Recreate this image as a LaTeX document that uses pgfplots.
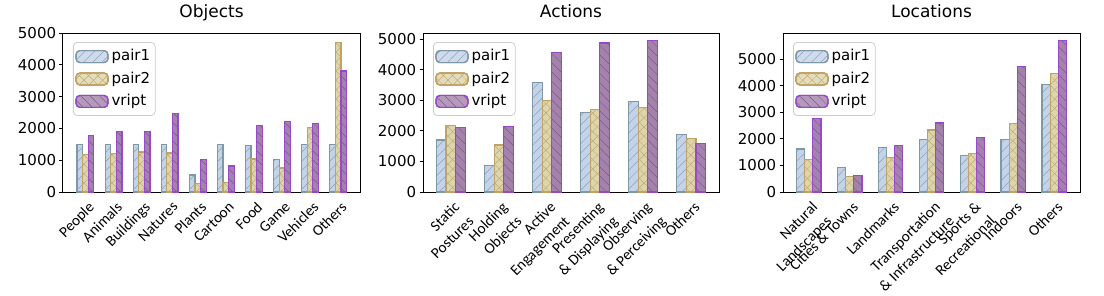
\documentclass[border=0pt]{standalone}
\usepackage{fontspec}
\setmainfont{DejaVu Sans}
\newfontfamily\calib{Carlito}
\usepackage{pgfplots}
\pgfplotsset{compat=1.18}
\usetikzlibrary{patterns.meta}

\definecolor{pAfill}{HTML}{C3D3E8}
\definecolor{pAedge}{HTML}{7F98A6}
\definecolor{pAhatch}{HTML}{8EA3BC}
\definecolor{pBfill}{HTML}{DDD5AE}
\definecolor{pBedge}{HTML}{C0A262}
\definecolor{pBhatch}{HTML}{C4AB70}
\definecolor{vFill}{HTML}{A482AC}
\definecolor{vEdge}{HTML}{9848C8}
\definecolor{vHatch}{HTML}{7C5A90}

\pgfplotsset{
  mylegend/.style={legend image code/.code={\draw[##1] (0pt,-3pt) rectangle (16pt,3pt);}},
  pairone/.style={fill=pAfill, draw=pAedge, line width=0.6pt,
    postaction={pattern={Lines[angle=45,distance=3.3pt,line width=0.25pt]}, pattern color=pAhatch},
    /pgf/bar shift=-0.2, mylegend},
  pairtwo/.style={fill=pBfill, draw=pBedge, line width=0.6pt,
    postaction={pattern={Lines[angle=45,distance=3.3pt,line width=0.25pt]}, pattern color=pBhatch},
    postaction={pattern={Lines[angle=-45,distance=3.3pt,line width=0.25pt]}, pattern color=pBhatch},
    /pgf/bar shift=0, mylegend},
  vript/.style={fill=vFill, draw=vEdge, line width=0.6pt,
    postaction={pattern={Lines[angle=-45,distance=3.3pt,line width=0.25pt]}, pattern color=vHatch},
    /pgf/bar shift=0.2, mylegend},
  common/.style={
    scale only axis, width=148.5pt, height=79.5pt,
    ybar, bar width=0.2, ymin=0,
    axis line style={line width=0.5pt, black},
    tick align=outside, major tick length=1.75pt,
    tick style={black, line width=0.4pt},
    xtick pos=bottom, ytick pos=left,
    xtick style={draw=none},
    /pgf/number format/assume math mode=true,
    /pgf/number format/set thousands separator={},
    yticklabel style={font=\fontsize{7.5}{9}\selectfont, inner sep=1.5pt},
    xticklabel style={font=\calib\fontsize{7.6}{10}\selectfont, xshift=1pt, yshift=-1pt, rotate=45, anchor=north east, align=right, inner sep=1pt},
    title style={font=\fontsize{8.5}{10}\selectfont, anchor=base, yshift=2pt},
    legend style={at={(0,1)}, anchor=north west, xshift=5pt, yshift=-4.5pt,
      draw=black!20, rounded corners=2pt, fill=white, fill opacity=0.8, text opacity=1,
      font=\fontsize{7.5}{9}\selectfont, inner xsep=1pt, inner ysep=1.5pt, row sep=0pt,
      nodes={inner xsep=1.5pt, inner ysep=2pt},
      /tikz/every even column/.append style={column sep=2.5pt}},
    legend cell align=left,
    ytick={0,1000,2000,3000,4000,5000},
    xtick=data,
  },
}

\begin{document}
\begin{tikzpicture}
\path[use as bounding box] (0,0) rectangle (552pt,147.5pt);

\begin{axis}[common, at={(31.5pt,51.5pt)}, anchor=south west,
  title={Objects}, xmin=-0.8, xmax=9.78, ymax=5000,
  xticklabels={People,Animals,Buildings,Natures,Plants,Cartoon,Food,Game,Vehicles,Others}]
\addplot[pairone] coordinates {(0,1500) (1,1500) (2,1500) (3,1500) (4,536) (5,1500) (6,1470) (7,1029) (8,1500) (9,1500)};
\addplot[pairtwo] coordinates {(0,1190) (1,1208) (2,1260) (3,1229) (4,263) (5,305) (6,1040) (7,756) (8,2027) (9,4700)};
\addplot[vript] coordinates {(0,1765) (1,1891) (2,1912) (3,2458) (4,1029) (5,819) (6,2100) (7,2206) (8,2153) (9,3803)};
\legend{pair1,pair2,vript}
\end{axis}

\begin{axis}[common, at={(211.5pt,51.5pt)}, anchor=south west, width=148pt,
  title={Actions}, xmin=-0.58, xmax=5.58, ymax=5197,
  xticklabels={{Static\\Postures},{Holding\\Objects},{Active\\Engagement},{Presenting\\\& Displaying},{Observing\\\& Perceiving},Others}]
\addplot[pairone] coordinates {(0,1703) (1,873) (2,3570) (3,2587) (4,2948) (5,1889)};
\addplot[pairtwo] coordinates {(0,2183) (1,1539) (2,3002) (3,2697) (4,2762) (5,1747)};
\addplot[vript] coordinates {(0,2096) (1,2150) (2,4563) (3,4869) (4,4945) (5,1583)};
\legend{pair1,pair2,vript}
\end{axis}

\begin{axis}[common, at={(391.5pt,51.5pt)}, anchor=south west,
  title={Locations}, xmin=-0.63, xmax=6.63, ymax=5985,
  xticklabels={{Natural\\Landscapes},{Cities \& Towns},Landmarks,{Transportation\\\& Infrastructure},{Sports \&\\Recreational},Indoors,Others}]
\addplot[pairone] coordinates {(0,1621) (1,930) (2,1671) (3,1972) (4,1369) (5,1985) (6,4045)};
\addplot[pairtwo] coordinates {(0,1219) (1,590) (2,1307) (3,2337) (4,1445) (5,2575) (6,4447)};
\addplot[vript] coordinates {(0,2764) (1,628) (2,1759) (3,2600) (4,2048) (5,4736) (6,5690)};
\legend{pair1,pair2,vript}
\end{axis}
\end{tikzpicture}
\end{document}
